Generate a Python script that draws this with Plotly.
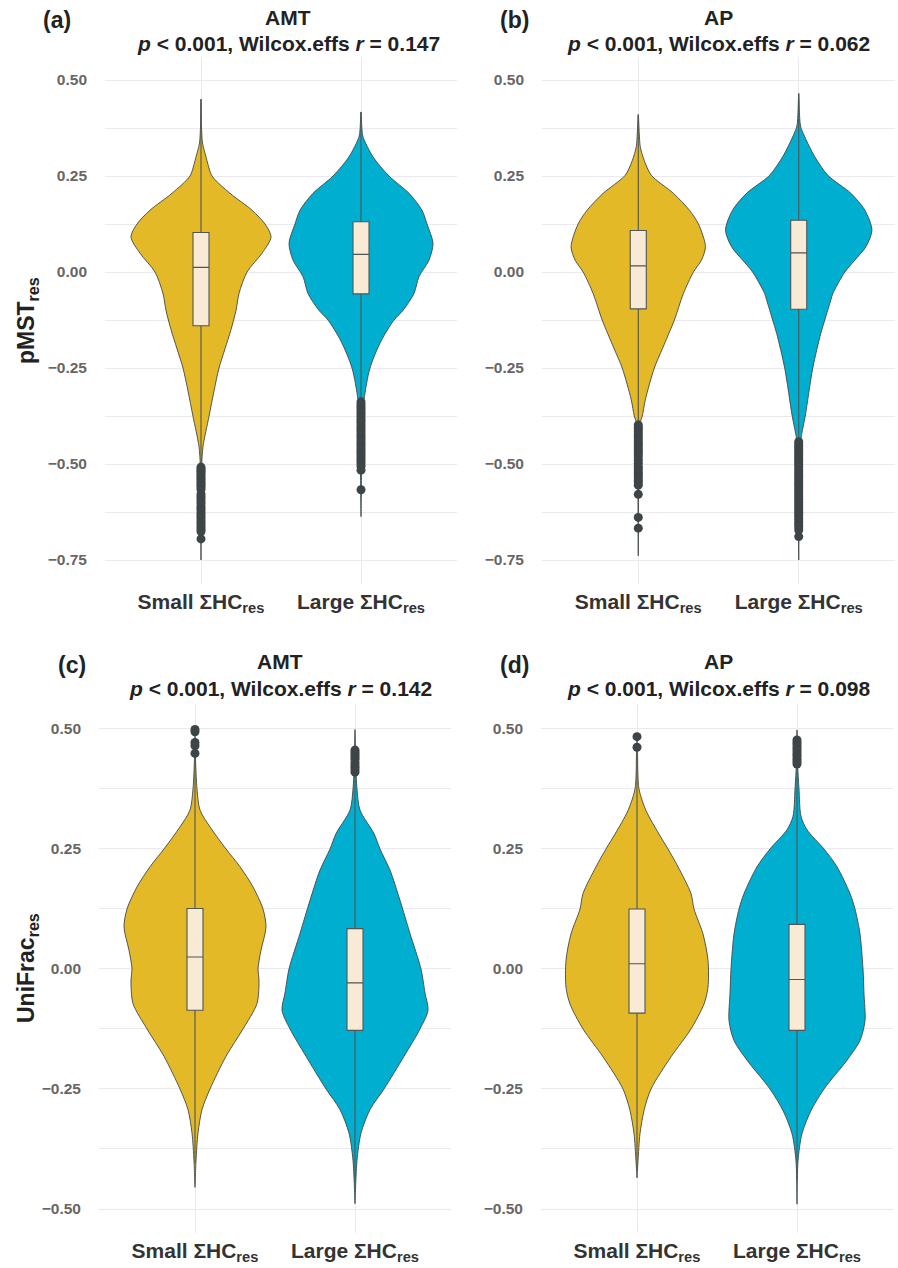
import plotly.graph_objects as go

W, H = 898, 1268

# ---------------- data ----------------
categories = ["Small", "Large"]
cat_labels = ["Small ΣHC<sub>res</sub>", "Large ΣHC<sub>res</sub>"]
panel_letters = ["(a)", "(b)", "(c)", "(d)"]
panel_groups = ["AMT", "AP", "AMT", "AP"]
panel_r = ["0.147", "0.062", "0.142", "0.098"]
y_titles = ["pMST<sub>res</sub>", "UniFrac<sub>res</sub>"]

# violin density profiles: y value and estimated density (half-width)
a_small_y = [0.45, 0.38, 0.336, 0.30, 0.28, 0.25, 0.205, 0.161, 0.125, 0.091, 0.049, 0.0, -0.056, -0.10, -0.15, -0.20, -0.25, -0.31, -0.376, -0.455, -0.51, -0.60, -0.75]
a_small_d = [0, 0.5, 1.5, 5, 7, 11, 29, 51, 64, 70, 61, 46, 38, 35, 30, 24, 18, 13, 8, 2, 0.6, 0.3, 0]
a_large_y = [0.417, 0.37, 0.352, 0.30, 0.25, 0.205, 0.161, 0.125, 0.075, 0.031, -0.012, -0.056, -0.10, -0.125, -0.18, -0.25, -0.333, -0.40, -0.52, -0.637]
a_large_d = [0, 1, 2, 12, 28, 48, 61, 66, 72, 68, 58, 53, 42, 33, 20, 9, 3, 1, 0.5, 0]
b_small_y = [0.41, 0.36, 0.326, 0.29, 0.252, 0.205, 0.161, 0.125, 0.066, 0.031, 0.0, -0.056, -0.125, -0.20, -0.25, -0.333, -0.375, -0.40, -0.55, -0.739]
b_small_d = [0, 1, 2, 6, 13, 35, 51, 60, 67, 63, 55, 45, 36, 24, 16, 7, 4, 1, 0.4, 0]
b_large_y = [0.465, 0.40, 0.378, 0.33, 0.30, 0.252, 0.205, 0.161, 0.109, 0.066, 0.031, 0.0, -0.056, -0.073, -0.125, -0.16, -0.25, -0.375, -0.438, -0.55, -0.75]
b_large_d = [0, 1, 2, 10, 16, 29, 52, 66, 73, 67, 56, 46, 34, 32, 26, 22, 14, 6.5, 2, 0.5, 0]
c_small_y = [0.499, 0.44, 0.375, 0.331, 0.296, 0.25, 0.213, 0.171, 0.125, 0.0875, 0.039, 0.0, -0.023, -0.072, -0.125, -0.182, -0.25, -0.293, -0.342, -0.40, -0.455]
c_small_d = [0, 0.5, 2, 5, 15, 31, 45, 58, 68, 71, 66, 63, 64, 62, 48, 31, 15, 7, 3, 1, 0]
c_large_y = [0.499, 0.43, 0.375, 0.331, 0.282, 0.25, 0.206, 0.143, 0.074, 0.0, -0.05, -0.086, -0.125, -0.182, -0.25, -0.293, -0.342, -0.399, -0.489]
c_large_d = [0, 0.7, 2, 5, 19, 25, 35, 45, 55, 66, 70, 73, 65, 49, 29, 15, 6, 2, 0]
d_small_y = [0.484, 0.45, 0.375, 0.33, 0.281, 0.25, 0.213, 0.157, 0.125, 0.073, 0.018, -0.038, -0.073, -0.125, -0.183, -0.25, -0.295, -0.343, -0.40, -0.435]
d_small_d = [0, 0.5, 2, 9, 22, 31, 41, 54, 57, 66, 71, 71, 67, 54, 34, 14, 7, 3, 1, 0]
d_large_y = [0.498, 0.43, 0.375, 0.318, 0.29, 0.25, 0.213, 0.157, 0.125, 0.073, 0.0, -0.052, -0.108, -0.149, -0.19, -0.25, -0.295, -0.343, -0.40, -0.49]
d_large_d = [0, 0.5, 2, 4, 10, 27, 40, 53, 58, 63, 66, 67, 68, 63, 50, 27, 14, 5, 1, 0]

# box statistics [small, large] per panel
q1 = [[-0.140, -0.057], [-0.096, -0.097], [-0.086, -0.128], [-0.092, -0.128]]
med = [[0.012, 0.046], [0.016, 0.050], [0.025, -0.029], [0.011, -0.022]]
q3 = [[0.103, 0.131], [0.108, 0.135], [0.126, 0.084], [0.125, 0.093]]
lo_fence = [[-0.505, -0.335], [-0.395, -0.440], [-0.405, -0.446], [-0.418, -0.440]]
hi_fence = [[0.450, 0.417], [0.410, 0.465], [0.442, 0.402], [0.450, 0.425]]

# outliers
a_small_out = [-0.508, -0.512, -0.516, -0.52, -0.525, -0.53, -0.535, -0.54, -0.545, -0.55, -0.555, -0.56, -0.566,
               -0.578, -0.584, -0.59, -0.596, -0.602, -0.61, -0.616, -0.622, -0.628, -0.634, -0.64, -0.646,
               -0.652, -0.658, -0.664, -0.67, -0.676, -0.695]
a_large_out = [-0.338, -0.344, -0.35, -0.356, -0.362, -0.368, -0.374, -0.38, -0.386, -0.392, -0.398, -0.404,
               -0.41, -0.416, -0.422, -0.428, -0.434, -0.44, -0.446, -0.452, -0.458, -0.464, -0.47, -0.476,
               -0.482, -0.488, -0.494, -0.5, -0.506, -0.516, -0.567]
b_small_out = [-0.398, -0.404, -0.41, -0.416, -0.422, -0.428, -0.434, -0.44, -0.446, -0.452, -0.458, -0.464,
               -0.47, -0.476, -0.482, -0.49, -0.498, -0.506, -0.512, -0.518, -0.524, -0.53, -0.536, -0.542,
               -0.548, -0.555, -0.579, -0.639, -0.667]
b_large_out = [-0.442, -0.448, -0.454, -0.46, -0.466, -0.472, -0.478, -0.484, -0.49, -0.496, -0.502, -0.508,
               -0.514, -0.52, -0.526, -0.532, -0.538, -0.544, -0.55, -0.556, -0.562, -0.568, -0.574, -0.58,
               -0.586, -0.592, -0.598, -0.604, -0.61, -0.616, -0.622, -0.628, -0.634, -0.64, -0.646, -0.652,
               -0.658, -0.664, -0.672, -0.689]
c_small_out = [0.499, 0.494, 0.472, 0.465, 0.449]
c_large_out = [0.456, 0.452, 0.448, 0.444, 0.44, 0.436, 0.43, 0.425, 0.42, 0.415, 0.41]
d_small_out = [0.484, 0.462]
d_large_out = [0.477, 0.472, 0.467, 0.462, 0.457, 0.452, 0.447, 0.442, 0.437, 0.432, 0.427]

y_ticks_top = [0.5, 0.25, 0.0, -0.25, -0.5, -0.75]
y_ticks_bot = [0.5, 0.25, 0.0, -0.25, -0.5]

violin_profiles = [
    [(a_small_y, a_small_d), (a_large_y, a_large_d)],
    [(b_small_y, b_small_d), (b_large_y, b_large_d)],
    [(c_small_y, c_small_d), (c_large_y, c_large_d)],
    [(d_small_y, d_small_d), (d_large_y, d_large_d)],
]
outliers = [
    [a_small_out, a_large_out],
    [b_small_out, b_large_out],
    [c_small_out, c_large_out],
    [d_small_out, d_large_out],
]

# ---------------- styling / layout ----------------
FONT = "Liberation Sans, Arial, sans-serif"
FILL = ["#E4B928", "#00AFD0"]
BOX_FILL = "#F9EAD6"
LINE = "#424748"
OUT_COL = "#3E4547"
GRID = "#EAEAEE"
DENS_SCALE = 1 / 160.0  # density -> category-axis units

# pixel geometry of each panel: x0, x1, y0(top), y1(bottom)
panels_px = [(105, 457, 57, 584), (542, 895, 57, 584), (99, 451, 704, 1233), (541, 893, 704, 1233)]
y_ranges = [[-0.8125, 0.56], [-0.8125, 0.56], [-0.55, 0.552], [-0.55, 0.552]]

def fmt(v):
    s = f"{abs(v):.2f}"
    return ("−" + s) if v < 0 else s

fig = go.Figure()
layout = dict(width=W, height=H, margin=dict(l=0, r=0, t=0, b=0),
              paper_bgcolor="white", plot_bgcolor="white", showlegend=False,
              boxmode="overlay", annotations=[])

for p in range(4):
    xa = "x" if p == 0 else f"x{p+1}"
    ya = "y" if p == 0 else f"y{p+1}"
    xkey = "xaxis" if p == 0 else f"xaxis{p+1}"
    ykey = "yaxis" if p == 0 else f"yaxis{p+1}"
    # overlay axes (drawn on top) for box + outliers
    xo, yo = f"x{p+5}", f"y{p+5}"
    xokey, yokey = f"xaxis{p+5}", f"yaxis{p+5}"
    x0, x1, t0, b0 = panels_px[p]
    ticks = y_ticks_top if p < 2 else y_ticks_bot
    allvals = []
    alltext = []
    for v in ticks:
        allvals.append(v)
        alltext.append(fmt(v))
    lo, hi = y_ranges[p]
    m = -0.875
    while m < 0.6:
        if lo < m < hi and all(abs(m - t) > 1e-6 for t in ticks):
            allvals.append(m)
            alltext.append("")
        m += 0.25
    layout[xkey] = dict(domain=[x0 / W, x1 / W], range=[0.4, 2.6], anchor=ya,
                        tickvals=[1, 2], ticktext=cat_labels, showgrid=True, gridcolor=GRID,
                        gridwidth=1, zeroline=False, showline=False, ticks="",
                        tickfont=dict(family=FONT, size=21, color="#333333", weight="bold"),
                        ticklabelstandoff=3)
    layout[ykey] = dict(domain=[1 - b0 / H, 1 - t0 / H], range=y_ranges[p], anchor=xa,
                        tickvals=allvals, ticktext=alltext, showgrid=True, gridcolor=GRID,
                        gridwidth=1, zeroline=False, showline=False, ticks="",
                        tickfont=dict(family=FONT, size=15.5, color="#666666", weight="bold"),
                        ticklabelstandoff=17)
    layout[xokey] = dict(overlaying=xa, range=[0.4, 2.6], anchor=yo, visible=False,
                         showgrid=False, zeroline=False)
    layout[yokey] = dict(overlaying=ya, range=y_ranges[p], anchor=xo, visible=False,
                         showgrid=False, zeroline=False)

    for k in range(2):
        cx = k + 1
        ys, ds = violin_profiles[p][k]
        xs_left = [cx - d * DENS_SCALE for d in ds]
        xs_right = [cx + d * DENS_SCALE for d in ds]
        px_ = xs_left + xs_right[::-1]
        py_ = list(ys) + list(ys)[::-1]
        fig.add_trace(go.Scatter(x=px_, y=py_, mode="lines", fill="toself",
                                 fillcolor=FILL[k], line=dict(color=LINE, width=0.9, shape="spline", smoothing=0.8),
                                 xaxis=xa, yaxis=ya, hoverinfo="skip"))
    for k in range(2):
        cx = k + 1
        fig.add_trace(go.Box(x=[cx], q1=[q1[p][k]], median=[med[p][k]], q3=[q3[p][k]],
                             lowerfence=[lo_fence[p][k]], upperfence=[hi_fence[p][k]],
                             orientation="v", width=0.1, whiskerwidth=0, fillcolor=BOX_FILL,
                             line=dict(color="#505556", width=1.1), boxpoints=False,
                             xaxis=xo, yaxis=yo))
        outs = outliers[p][k]
        fig.add_trace(go.Scatter(x=[cx] * len(outs), y=outs, mode="markers",
                                 marker=dict(color=OUT_COL, size=9, line=dict(width=0)),
                                 xaxis=xo, yaxis=yo, hoverinfo="skip"))

# text annotations (pixel positions)
letter_pos = [(57, 20), (514, 20), (72, 665), (514, 665)]
title_x = [288, 718, 280, 718]
title_y1 = [17.5, 17.5, 661.5, 661.5]
title_y2 = [43.5, 43.5, 688, 688]
anns = []
for p in range(4):
    lx, ly = letter_pos[p]
    anns.append(dict(text=f"<b>{panel_letters[p]}</b>", x=lx / W, y=1 - ly / H, xref="paper", yref="paper",
                     showarrow=False, xanchor="center", yanchor="middle",
                     font=dict(family=FONT, size=23, color="#222222")))
    anns.append(dict(text=f"<b>{panel_groups[p]}</b>", x=title_x[p] / W, y=1 - title_y1[p] / H,
                     xref="paper", yref="paper", showarrow=False, xanchor="center", yanchor="middle",
                     font=dict(family=FONT, size=21, color="#222222")))
    anns.append(dict(text=f"<b><i>p</i> &lt; 0.001, Wilcox.effs <i>r</i> = {panel_r[p]}</b>",
                     x=title_x[p] / W, y=1 - title_y2[p] / H,
                     xref="paper", yref="paper", showarrow=False, xanchor="center", yanchor="middle",
                     font=dict(family=FONT, size=21, color="#222222")))
ytitle_pos = [(27, 321), (27, 968)]
for i in range(2):
    tx, ty = ytitle_pos[i]
    anns.append(dict(text=f"<b>{y_titles[i]}</b>", x=tx / W, y=1 - ty / H, xref="paper", yref="paper",
                     showarrow=False, xanchor="center", yanchor="middle", textangle=-90,
                     font=dict(family=FONT, size=23, color="#222222")))
layout["annotations"] = anns
fig.update_layout(**layout)
fig.write_html("out.html", config={"displayModeBar": False},
               post_script="document.body.style.margin='0';document.body.style.padding='0';")
